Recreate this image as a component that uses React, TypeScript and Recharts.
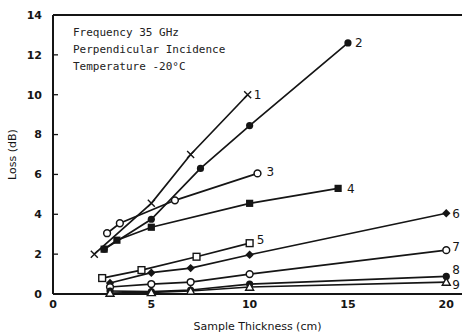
import {
  ScatterChart, Scatter, XAxis, YAxis, ReferenceLine, ReferenceDot,
} from 'recharts';

type Pt = { x: number; y: number };

// loss (dB) vs sample thickness (cm)
const s1: Pt[] = [{ x: 2.1, y: 2.0 }, { x: 5, y: 4.55 }, { x: 7, y: 7.0 }, { x: 9.9, y: 10.0 }];
const s2: Pt[] = [{ x: 2.6, y: 2.25 }, { x: 5, y: 3.75 }, { x: 7.5, y: 6.3 }, { x: 10, y: 8.45 }, { x: 15, y: 12.6 }];
const s3: Pt[] = [{ x: 2.75, y: 3.05 }, { x: 3.4, y: 3.55 }, { x: 6.2, y: 4.7 }, { x: 10.4, y: 6.05 }];
const s4: Pt[] = [{ x: 2.6, y: 2.25 }, { x: 3.25, y: 2.7 }, { x: 5, y: 3.35 }, { x: 10, y: 4.55 }, { x: 14.5, y: 5.3 }];
const s5: Pt[] = [{ x: 2.5, y: 0.8 }, { x: 4.5, y: 1.2 }, { x: 7.3, y: 1.87 }, { x: 10, y: 2.55 }];
const s6: Pt[] = [{ x: 2.9, y: 0.55 }, { x: 5, y: 1.07 }, { x: 7, y: 1.3 }, { x: 10, y: 1.97 }, { x: 20, y: 4.05 }];
const s7: Pt[] = [{ x: 2.9, y: 0.35 }, { x: 5, y: 0.5 }, { x: 7, y: 0.6 }, { x: 10, y: 1.0 }, { x: 20, y: 2.2 }];
const s8: Pt[] = [{ x: 2.9, y: 0.15 }, { x: 5, y: 0.12 }, { x: 7, y: 0.2 }, { x: 10, y: 0.5 }, { x: 20, y: 0.88 }];
const s9: Pt[] = [{ x: 2.9, y: 0.05 }, { x: 5, y: 0.08 }, { x: 7, y: 0.15 }, { x: 10, y: 0.35 }, { x: 20, y: 0.6 }];

const xTicks = [0, 5, 10, 15, 20];
const yTicks = [0, 2, 4, 6, 8, 10, 12, 14];
const notes = ['Frequency 35 GHz', 'Perpendicular Incidence', 'Temperature -20°C'];

const INK = '#151515';

const Cross = (p: any) => {
  const { cx, cy } = p; const d = 3.5;
  return <path d={`M${cx - d},${cy - d}L${cx + d},${cy + d}M${cx - d},${cy + d}L${cx + d},${cy - d}`} stroke={INK} strokeWidth={1.4} />;
};
const Dot = (p: any) => <circle cx={p.cx} cy={p.cy} r={3.6} fill={INK} />;
const Ring = (p: any) => <circle cx={p.cx} cy={p.cy} r={3.4} fill="#fff" stroke={INK} strokeWidth={1.5} />;
const Block = (p: any) => <rect x={p.cx - 3.6} y={p.cy - 3.6} width={7.2} height={7.2} fill={INK} />;
const Box = (p: any) => <rect x={p.cx - 3.4} y={p.cy - 3.4} width={6.8} height={6.8} fill="#fff" stroke={INK} strokeWidth={1.4} />;
const Diamond = (p: any) => {
  const { cx, cy } = p; const d = 4.2;
  return <path d={`M${cx},${cy - d}L${cx + d},${cy}L${cx},${cy + d}L${cx - d},${cy}Z`} fill={INK} />;
};
const Tri = (p: any) => {
  const { cx, cy } = p; const d = 4;
  return <path d={`M${cx},${cy - d}L${cx + d},${cy + d * 0.8}L${cx - d},${cy + d * 0.8}Z`} fill="#fff" stroke={INK} strokeWidth={1.4} />;
};

const series = [
  { name: '1', data: s1, shape: Cross, offset: 6, dy: 0 },
  { name: '2', data: s2, shape: Dot, offset: 7, dy: 0 },
  { name: '3', data: s3, shape: Ring, offset: 9, dy: -2 },
  { name: '4', data: s4, shape: Block, offset: 9, dy: 0 },
  { name: '5', data: s5, shape: Box, offset: 7, dy: -3 },
  { name: '6', data: s6, shape: Diamond, offset: 6, dy: 0 },
  { name: '7', data: s7, shape: Ring, offset: 6, dy: -3 },
  { name: '8', data: s8, shape: Dot, offset: 6, dy: -7 },
  { name: '9', data: s9, shape: Tri, offset: 6, dy: 3 },
];

const font = { fontFamily: 'DejaVu Sans', fontWeight: 700, fontSize: 11, fill: INK };
const TICK_GAP = 11;

// y tick label plus a short tick pointing into the plot
const renderYTick = (p: any) => {
  const ax = Number(p.x) + TICK_GAP;
  const ty = Number(p.y);
  return (
    <g key={p.index}>
      {p.payload.value > 0 && <path d={`M${ax},${ty}H${ax + 5}`} stroke={INK} strokeWidth={1.3} fill="none" />}
      <text x={p.x} y={ty} dy="0.35em" textAnchor="end" {...font}>{p.payload.value}</text>
    </g>
  );
};

export default function App() {
  return (
    <div style={{ position: 'relative', width: 466, height: 334, background: '#fff' }}>
      <style>{'body{margin:0}'}</style>
      <ScatterChart width={466} height={334} margin={{ top: 15, right: 4, bottom: 0, left: 0 }}>
        <XAxis
          type="number" dataKey="x" domain={[0, 20.8]} ticks={xTicks} height={40}
          axisLine={{ stroke: INK, strokeWidth: 2 }} tickLine={false} tickSize={0} tickMargin={6}
          tick={font}
          label={{ value: 'Sample Thickness (cm)', position: 'insideBottom', offset: 4, style: { fontFamily: 'DejaVu Sans', fontSize: 11, fill: INK } }}
        />
        <YAxis
          type="number" dataKey="y" domain={[0, 14]} ticks={yTicks} width={53}
          axisLine={{ stroke: INK, strokeWidth: 2 }} tickLine={false} tickSize={0} tickMargin={TICK_GAP}
          tick={renderYTick}
          label={{ value: 'Loss (dB)', position: 'insideLeft', angle: -90, offset: 12, style: { textAnchor: 'middle', fontFamily: 'DejaVu Sans', fontSize: 11, fill: INK } }}
        />
        <ReferenceLine y={14} stroke={INK} strokeWidth={2} />
        {series.map(s => (
          <Scatter
            key={s.name}
            name={s.name}
            data={s.data}
            shape={s.shape}
            line={{ stroke: INK, strokeWidth: 1.7 }}
            lineType="joint"
            isAnimationActive={false}
          />
        ))}
        {series.map(s => {
          const last = s.data[s.data.length - 1];
          return (
            <ReferenceDot
              key={'l' + s.name}
              x={last.x}
              y={last.y}
              r={0}
              fill="none"
              stroke="none"
              ifOverflow="visible"
              label={{ value: s.name, position: 'right', offset: s.offset, dy: s.dy, style: { fontFamily: 'DejaVu Sans', fontSize: 12, fill: INK } }}
            />
          );
        })}
      </ScatterChart>
      <div style={{ position: 'absolute', left: 73, top: 24, fontFamily: 'DejaVu Sans Mono', fontSize: 11, lineHeight: '17px', color: '#222', whiteSpace: 'pre' }}>
        {notes.map(n => <div key={n}>{n}</div>)}
      </div>
    </div>
  );
}
